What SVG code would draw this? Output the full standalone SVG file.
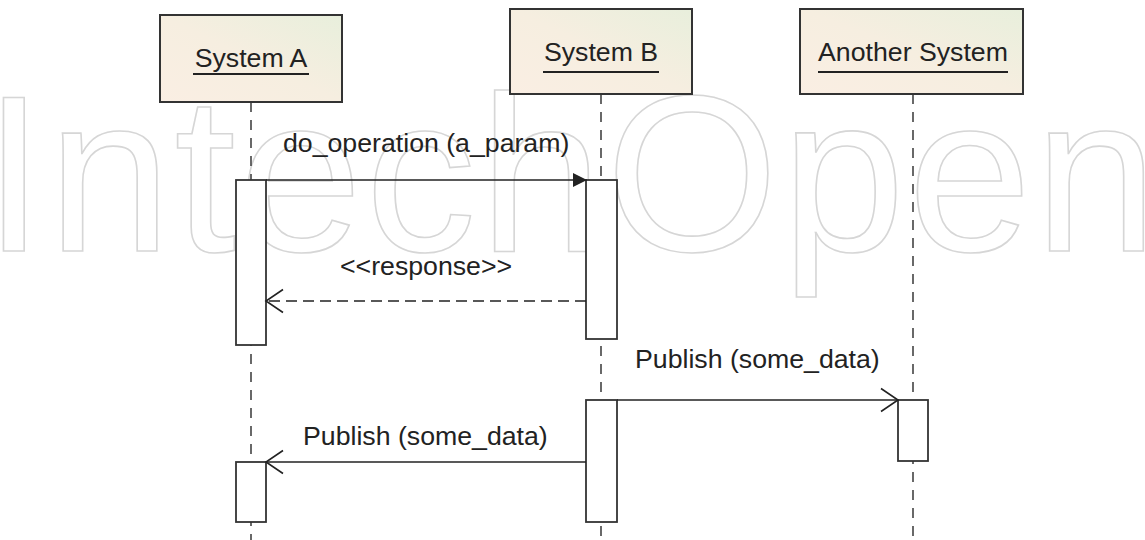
<svg xmlns="http://www.w3.org/2000/svg" width="1145" height="540" viewBox="0 0 1145 540">
<defs>
<linearGradient id="hdr" x1="0" y1="1" x2="1" y2="0">
<stop offset="0" stop-color="#faeee3"/>
<stop offset="0.5" stop-color="#f6eee0"/>
<stop offset="1" stop-color="#e8efdc"/>
</linearGradient>
<marker id="filled" markerWidth="16" markerHeight="16" refX="15" refY="8" orient="auto" markerUnits="userSpaceOnUse">
<path d="M1,1 L15,8 L1,15 Z" fill="#222"/>
</marker>
<marker id="open" markerWidth="20" markerHeight="26" refX="18" refY="13" orient="auto" markerUnits="userSpaceOnUse">
<path d="M1,1.5 L18,13 L1,24.5" fill="none" stroke="#222" stroke-width="1.6"/>
</marker>
</defs>
<style>
.wm{font-family:"Liberation Sans",Arial,sans-serif;font-size:222px;letter-spacing:3px;fill:none;stroke:#d6d6d6;stroke-width:1.6}
.hdr{fill:url(#hdr);stroke:#333;stroke-width:2}
.hname{font-family:"Liberation Sans",Arial,sans-serif;font-size:26.7px;fill:#222;text-anchor:middle}
.ul{stroke:#222;stroke-width:2}
.life{stroke:#444;stroke-width:1.6;stroke-dasharray:10 8;fill:none}
.act{fill:#fff;stroke:#333;stroke-width:1.8}
.msg{stroke:#222;stroke-width:1.6;fill:none}
.ret{stroke:#222;stroke-width:1.6;fill:none;stroke-dasharray:11 6}
.lbl{font-family:"Liberation Sans",Arial,sans-serif;font-size:26.7px;fill:#222}
</style>
<rect width="1145" height="540" fill="#fff"/>
<text class="wm" x="-17" y="251">IntechOpen</text>
<g id="lifelines">
<line class="life" x1="251" y1="102" x2="251" y2="540"/>
<line class="life" x1="601" y1="94" x2="601" y2="540"/>
<line class="life" x1="913" y1="94" x2="913" y2="540"/>
</g>
<g id="systemA">
<rect class="hdr" x="160" y="15" width="182" height="87"/>
<text class="hname" x="251" y="67">System A</text>
<line class="ul" x1="193" y1="74" x2="309" y2="74"/>
</g>
<g id="systemB">
<rect class="hdr" x="510" y="9" width="182" height="85"/>
<text class="hname" x="601" y="61">System B</text>
<line class="ul" x1="543" y1="72" x2="659" y2="72"/>
</g>
<g id="anotherSystem">
<rect class="hdr" x="800" y="9" width="223" height="85"/>
<text class="hname" x="913" y="61">Another System</text>
<line class="ul" x1="818" y1="72" x2="1008" y2="72"/>
</g>
<g id="activations">
<rect id="actA1" class="act" x="236" y="180" width="30" height="165"/>
<rect id="actB1" class="act" x="586" y="180" width="31" height="159"/>
<rect id="actB2" class="act" x="586" y="400" width="31" height="122"/>
<rect id="actC1" class="act" x="898" y="400" width="30" height="61"/>
<rect id="actA2" class="act" x="236" y="462" width="30" height="60"/>
</g>
<g id="connectors">
<line class="msg" x1="266" y1="180" x2="587" y2="180" marker-end="url(#filled)"/>
<line class="ret" x1="586" y1="301" x2="266" y2="301" marker-end="url(#open)"/>
<line class="msg" x1="617" y1="400" x2="898" y2="400" marker-end="url(#open)"/>
<line class="msg" x1="586" y1="462" x2="266" y2="462" marker-end="url(#open)"/>
</g>
<g id="labels">
<text class="lbl" x="283" y="152">do_operation (a_param)</text>
<text class="lbl" x="340" y="275">&lt;&lt;response&gt;&gt;</text>
<text class="lbl" x="635" y="368">Publish (some_data)</text>
<text class="lbl" x="303" y="445">Publish (some_data)</text>
</g>
</svg>
